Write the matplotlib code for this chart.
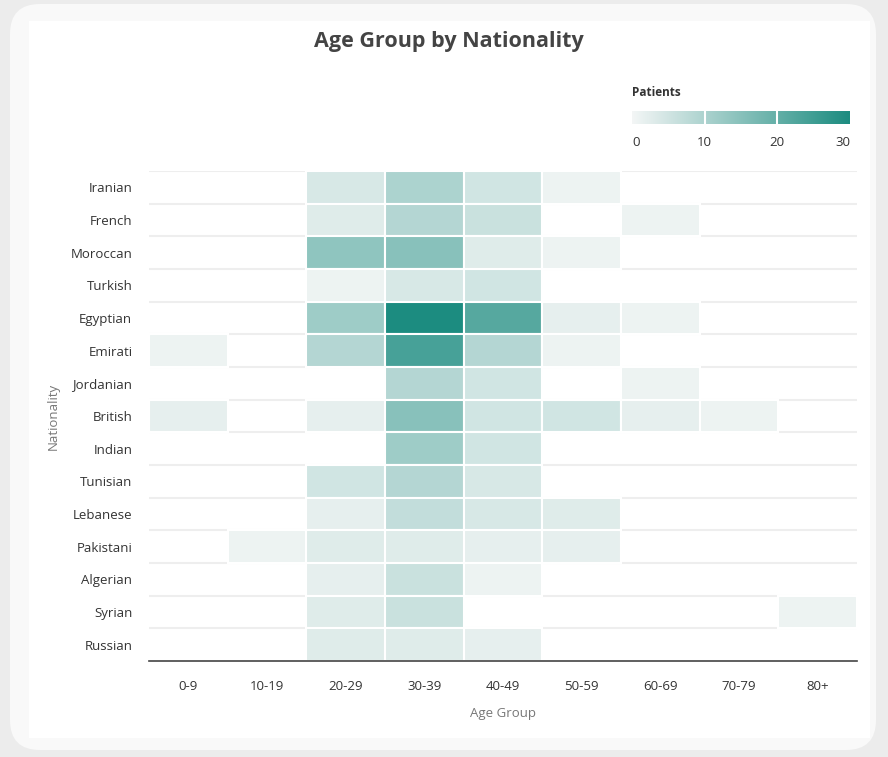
import numpy as np
import matplotlib
matplotlib.use("Agg")
import matplotlib.pyplot as plt
from matplotlib.colors import LinearSegmentedColormap, Normalize
from matplotlib.patches import FancyBboxPatch, Rectangle

# donnees
nationalites = ["Iranian", "French", "Moroccan", "Turkish", "Egyptian", "Emirati",
                "Jordanian", "British", "Indian", "Tunisian", "Lebanese",
                "Pakistani", "Algerian", "Syrian", "Russian"]
tranches = ["0-9", "10-19", "20-29", "30-39", "40-49", "50-59", "60-69", "70-79", "80+"]

iranian = [0, 0, 4, 10, 5, 1, 0, 0, 0]
french = [0, 0, 3, 9, 6, 0, 1, 0, 0]
moroccan = [0, 0, 14, 15, 3, 1, 0, 0, 0]
turkish = [0, 0, 1, 4, 5, 0, 0, 0, 0]
egyptian = [0, 0, 12, 30, 22, 2, 1, 0, 0]
emirati = [1, 0, 9, 24, 9, 1, 0, 0, 0]
jordanian = [0, 0, 0, 9, 5, 0, 1, 0, 0]
british = [2, 0, 2, 15, 5, 5, 2, 1, 0]
indian = [0, 0, 0, 12, 5, 0, 0, 0, 0]
tunisian = [0, 0, 5, 9, 4, 0, 0, 0, 0]
lebanese = [0, 0, 2, 7, 4, 3, 0, 0, 0]
pakistani = [0, 1, 3, 3, 2, 2, 0, 0, 0]
algerian = [0, 0, 2, 6, 1, 0, 0, 0, 0]
syrian = [0, 0, 3, 6, 0, 0, 0, 0, 1]
russian = [0, 0, 3, 3, 2, 0, 0, 0, 0]

valeurs = np.array([iranian, french, moroccan, turkish, egyptian, emirati, jordanian,
                    british, indian, tunisian, lebanese, pakistani, algerian,
                    syrian, russian], dtype=float)
vmax = 30

plt.rcParams['font.family'] = ['Open Sans', 'DejaVu Sans']
cmap = LinearSegmentedColormap.from_list("teal", ["#f4f6f6", "#1c8c80"])
norm = Normalize(0, vmax)

fig = plt.figure(figsize=(8.88, 7.57), dpi=100)
W, H = 888, 757
fig.patch.set_facecolor("#ececec")

# fond carte
bg = fig.add_axes([0, 0, 1, 1])
bg.set_xlim(0, W)
bg.set_ylim(H, 0)
bg.axis("off")
bg.add_patch(FancyBboxPatch((10, 4), 866, 746, boxstyle="round,pad=0,rounding_size=30",
                            facecolor="#f9f9f9", edgecolor="none"))
bg.add_patch(Rectangle((29, 21), 841, 717, facecolor="white", edgecolor="none"))

# heatmap
x0, x1, y0, y1 = 149, 857, 171, 661
ax = fig.add_axes([x0 / W, 1 - y1 / H, (x1 - x0) / W, (y1 - y0) / H])
n_rows, n_cols = valeurs.shape
cols = np.arange(n_cols)
for i in range(n_rows):
    ax.axhline(i, color="#eeeeee", lw=1.5, zorder=0)
    nz = valeurs[i] > 0
    ax.bar(cols[nz], 1, bottom=i, width=1, align="edge",
           color=cmap(norm(valeurs[i][nz])), edgecolor="white", linewidth=1.5, zorder=1)
ax.set_xlim(0, n_cols)
ax.set_ylim(n_rows, 0)
ax.set_xticks(cols + 0.5)
ax.set_xticklabels(tranches)
ax.set_yticks(np.arange(n_rows) + 0.5)
ax.set_yticklabels(nationalites)
ax.tick_params(length=0, labelsize=9.5, colors="#333333", pad=12)
ax.tick_params(axis="x", pad=14)
for s in ["top", "right", "left"]:
    ax.spines[s].set_visible(False)
ax.spines["bottom"].set_color("#444444")
ax.spines["bottom"].set_linewidth(1.2)
ax.spines["bottom"].set_zorder(3)
ax.set_xlabel("Age Group", fontsize=9.5, color="#777777", labelpad=10)
ax.set_ylabel("Nationality", fontsize=9.5, color="#777777", labelpad=8)

fig.text(449 / W, 1 - 42 / H, "Age Group by Nationality", ha="center", va="center",
         fontsize=15.5, fontweight="bold", color="#444444")

# legende
cax = fig.add_axes([632 / W, 1 - 124 / H, 218 / W, 13 / H])
grad = np.linspace(0, vmax, 256).reshape(1, -1)
cax.imshow(grad, aspect="auto", cmap=cmap, extent=[0, vmax, 0, 1])
for t in [10, 20]:
    cax.axvline(t, color="white", lw=1.5)
cax.set_xlim(0, vmax)
cax.set_yticks([])
cax.set_xticks([0, 10, 20, 30])
cax.tick_params(length=0, labelsize=9.5, colors="#333333", pad=9)
for s in cax.spines.values():
    s.set_visible(False)
cax.get_xticklabels()[0].set_ha("left")
cax.get_xticklabels()[-1].set_ha("right")
fig.text(632 / W, 1 - 92 / H, "Patients", ha="left", va="center",
         fontsize=8.5, fontweight="bold", color="#333333")

fig.savefig("out.png", dpi=100, facecolor=fig.get_facecolor())
